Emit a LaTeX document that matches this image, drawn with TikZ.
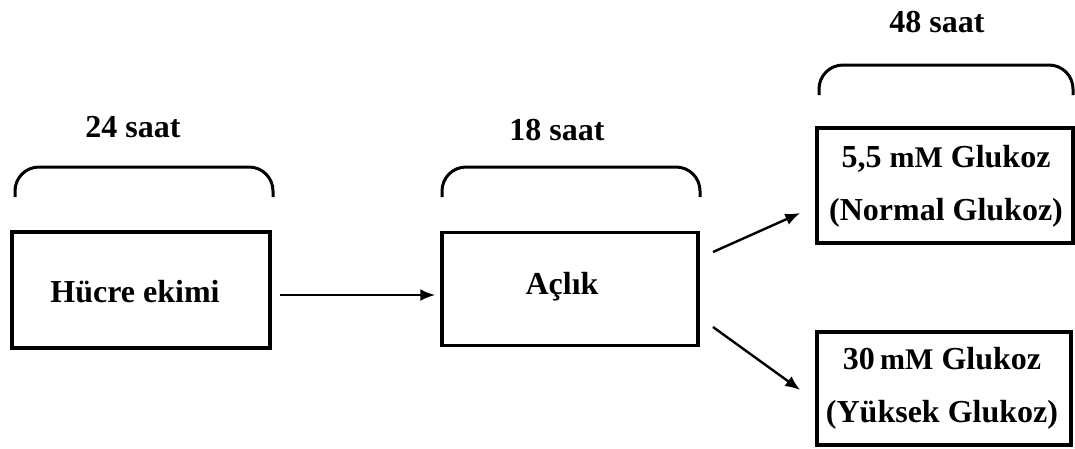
\documentclass[tikz,border=0pt]{standalone}
\usepackage{fontspec}
\setmainfont{Liberation Serif}
\usetikzlibrary{arrows.meta}
\newcommand{\unitmm}{{\fontsize{30}{36}\selectfont mM}}
\tikzset{
  stagebox/.style={draw, line width=3.5pt, inner sep=0pt, fill=white},
  lbl/.style={font=\fontsize{32}{38}\selectfont\bfseries, inner sep=0pt, align=center},
  span/.style={line width=3pt, rounded corners=24pt},
  flow/.style={line width=2.4pt, -{Latex[length=15pt,width=12pt]}}
}
\begin{document}
\begin{tikzpicture}[x=1pt, y=-1pt]
  \useasboundingbox (0,0) rectangle (1075,448);

  % stage boxes
  \node[stagebox, minimum width=258pt, minimum height=116pt] (ekim) at (141,290) {};
  \node[stagebox, minimum width=256pt, minimum height=113pt] (aclik) at (570,289) {};
  \node[stagebox, minimum width=256pt, minimum height=115pt] (normal) at (945,185.5) {};
  \node[stagebox, minimum width=254pt, minimum height=113pt] (yuksek) at (944,388.5) {};

  % box texts
  \node[lbl] (tekim) at (135,292) {Hücre ekimi};
  \node[lbl] (taclik) at (562,287) {Açlık};
  \node[lbl] (tnormal) at (946,186.5) {5,5 \unitmm{} Glukoz\\[15pt](Normal Glukoz)};
  \node[lbl] (tyuksek) at (942,388.5) {30\,\unitmm{} Glukoz\\[15pt](Yüksek Glukoz)};

  % duration brackets
  \draw[span] (15,197) -- (15,167) -- (273,167) -- (273,197);
  \draw[span] (442,197) -- (442,167) -- (700,167) -- (700,197);
  \draw[span] (819,95) -- (819,65) -- (1073,65) -- (1073,95);

  % duration labels
  \node[lbl] (d24) at (133,127) {24 saat};
  \node[lbl] (d18) at (557,130) {18 saat};
  \node[lbl] (d48) at (937,22) {48 saat};

  % connectors
  \coordinate (a1) at (713,252);
  \coordinate (a2) at (713,327);
  \draw[flow] ([xshift=8pt,yshift=-5pt]ekim.east) -- ([xshift=-5pt,yshift=-6pt]aclik.west);
  \draw[flow] (a1) -- ([xshift=-15pt,yshift=-27.5pt]normal.west);
  \draw[flow] (a2) -- ([xshift=-15pt,yshift=-1.5pt]yuksek.west);
\end{tikzpicture}
\end{document}
